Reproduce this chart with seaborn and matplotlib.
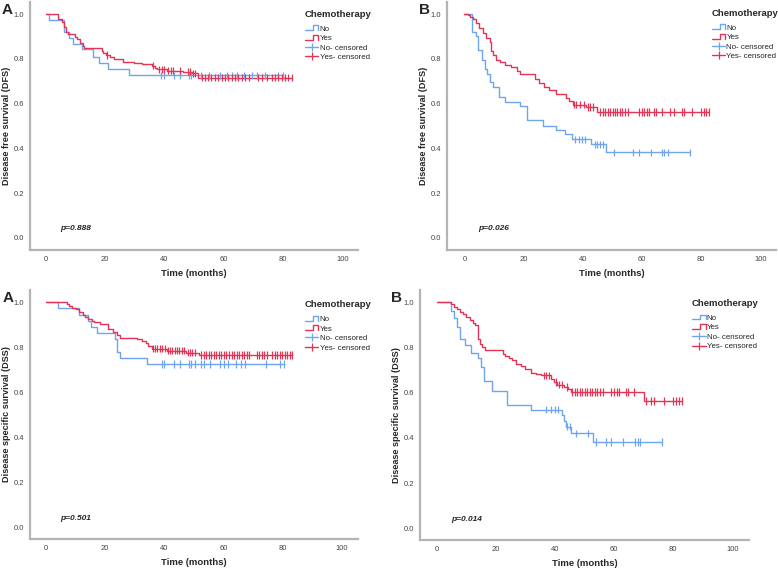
import numpy as np
import pandas as pd
import matplotlib
matplotlib.use('Agg')
import matplotlib.pyplot as plt
from matplotlib.legend_handler import HandlerBase
from matplotlib.lines import Line2D
import seaborn as sns

BLUE = '#6fa5ee'
RED = '#e33456'

# ---- DFS, panel A (top left)
dfs_a_no_time = [0, 1.2, 6.2, 8.0, 9.2, 12.1, 16.0, 18.1, 21.1, 28.2]
dfs_a_no_surv = [1.0, 0.974, 0.921, 0.895, 0.868, 0.842, 0.81, 0.783, 0.755, 0.726]
dfs_a_no_cens = [39.0, 39.8, 43.2, 45.3, 48.2, 49.0, 52.5, 55.1, 58.6, 61.1, 62.9, 64.5,
                 67.0, 69.5, 71.4, 74.0, 78.2, 80.0]
dfs_a_yes_time = [0, 4.3, 5.4, 6.0, 6.7, 7.6, 9.9, 10.7, 11.6, 12.5, 13.0, 18.9, 19.4, 20.3,
                  21.7, 23.0, 26.0, 29.6, 32.4, 35.7, 36.9, 37.6, 40.8, 46.4, 49.2, 51.5]
dfs_a_yes_surv = [1.0, 0.978, 0.966, 0.944, 0.921, 0.909, 0.899, 0.887, 0.869, 0.857, 0.847,
                  0.837, 0.825, 0.817, 0.807, 0.798, 0.788, 0.78, 0.776, 0.77, 0.761, 0.753,
                  0.747, 0.743, 0.736, 0.716]
dfs_a_yes_cens = [20.6, 36.3, 38.2, 39.1, 39.9, 41.3, 42.2, 43.0, 45.3, 47.9, 48.6, 49.8, 50.3,
                  52.6, 53.7, 54.8, 55.9, 57.1, 58.2, 59.3, 60.5, 61.6, 62.7, 63.8, 65.0, 66.1,
                  67.2, 68.7, 71.7, 72.8, 74.5, 76.2, 77.3, 78.4, 79.6, 80.7, 81.8, 83.2]

# ---- DFS, panel B (top right)
dfs_b_no_time = [0, 2.7, 3.8, 4.7, 5.9, 6.8, 7.6, 8.7, 9.7, 11.6, 13.7, 18.9, 21.0, 26.7,
                 31.0, 34.0, 36.5, 42.8, 47.9]
dfs_b_no_surv = [1.0, 0.921, 0.901, 0.838, 0.797, 0.753, 0.733, 0.695, 0.673, 0.63, 0.609,
                 0.589, 0.525, 0.502, 0.483, 0.463, 0.44, 0.418, 0.382]
dfs_b_no_cens = [37.4, 38.6, 39.6, 40.7, 44.0, 44.9, 45.8, 46.7, 50.7, 56.9, 58.9, 62.9,
                 66.7, 67.6, 68.8, 76.1]
dfs_b_yes_time = [0, 1.2, 2.0, 3.0, 4.0, 5.0, 6.2, 7.3, 8.6, 9.1, 9.7, 10.5, 11.9, 13.6, 15.9,
                  17.8, 18.9, 24.0, 25.3, 26.8, 28.6, 31.0, 34.2, 35.4, 36.6, 41.0, 44.8]
dfs_b_yes_surv = [1.0, 0.994, 0.988, 0.976, 0.958, 0.936, 0.914, 0.895, 0.877, 0.834, 0.818,
                  0.797, 0.784, 0.774, 0.762, 0.747, 0.733, 0.712, 0.693, 0.675, 0.66, 0.643,
                  0.627, 0.612, 0.596, 0.585, 0.563]
dfs_b_yes_cens = [37.0, 37.7, 38.9, 40.3, 41.6, 42.5, 43.4, 45.8, 46.7, 47.5, 48.4, 49.2, 50.1,
                  50.9, 51.7, 52.5, 53.4, 54.2, 55.3, 59.0, 59.9, 60.7, 61.6, 62.5, 64.0, 64.9,
                  66.7, 69.5, 70.8, 73.4, 74.2, 77.0, 80.1, 80.9, 81.8, 82.8]

# ---- DSS, panel A (bottom left)
dss_a_no_time = [0, 4.2, 11.3, 14.3, 15.1, 17.1, 23.3, 24.1, 25.0, 34.2]
dss_a_no_surv = [1.0, 0.973, 0.946, 0.919, 0.892, 0.865, 0.838, 0.781, 0.754, 0.726]
dss_a_no_cens = [39.1, 39.8, 43.2, 45.2, 48.2, 49.1, 50.5, 52.4, 53.4, 55.5, 59.0, 60.1,
                 61.7, 64.2, 65.9, 67.3, 74.5, 79.2, 80.4]
dss_a_yes_time = [0, 7.0, 7.9, 8.7, 10.2, 11.3, 12.4, 13.2, 14.3, 15.4, 16.2, 18.3, 21.1,
                  22.8, 24.1, 25.0, 30.7, 32.4, 33.8, 34.6, 35.7, 40.8, 47.5, 51.7]
dss_a_yes_surv = [1.0, 0.992, 0.985, 0.976, 0.97, 0.955, 0.946, 0.936, 0.925, 0.917, 0.911,
                  0.902, 0.881, 0.869, 0.855, 0.843, 0.837, 0.828, 0.818, 0.807, 0.794, 0.786,
                  0.776, 0.766]
dss_a_yes_cens = [36.1, 36.9, 37.7, 38.6, 39.3, 40.2, 41.1, 41.9, 42.7, 43.6, 44.4, 45.1, 45.9,
                  46.8, 47.9, 48.7, 49.5, 50.4, 52.5, 53.3, 54.2, 55.1, 55.9, 56.8, 57.6, 58.5,
                  59.3, 60.2, 61.0, 61.9, 62.8, 63.6, 64.5, 65.3, 66.2, 67.0, 67.9, 68.7, 71.3,
                  72.1, 73.0, 73.8, 74.7, 76.4, 77.3, 78.1, 79.0, 79.9, 80.7, 81.6, 82.4, 83.3]

# ---- DSS, panel B (bottom right)
dss_b_no_time = [0, 4.7, 5.9, 7.0, 7.8, 9.7, 11.7, 13.8, 14.9, 15.9, 18.7, 23.8, 32.0, 42.2,
                 43.0, 43.6, 45.5, 52.7]
dss_b_no_surv = [1.0, 0.963, 0.929, 0.893, 0.837, 0.813, 0.774, 0.752, 0.714, 0.65, 0.606,
                 0.545, 0.525, 0.5, 0.475, 0.45, 0.42, 0.382]
dss_b_no_cens = [36.8, 38.8, 39.9, 41.0, 44.2, 45.0, 47.2, 51.0, 54.0, 57.1, 58.8, 63.0,
                 67.0, 67.9, 68.9, 76.2]
dss_b_yes_time = [0, 5.0, 5.9, 6.7, 7.8, 8.9, 10.0, 11.2, 12.3, 13.1, 13.8, 14.5, 15.3, 16.2,
                  22.4, 23.2, 24.4, 25.5, 26.9, 28.6, 29.8, 31.8, 33.5, 35.4, 38.8, 39.6, 40.8,
                  43.1, 44.4, 45.3, 70.1]
dss_b_yes_surv = [1.0, 0.991, 0.981, 0.97, 0.959, 0.948, 0.936, 0.921, 0.907, 0.9, 0.84, 0.818,
                  0.803, 0.788, 0.773, 0.763, 0.754, 0.744, 0.729, 0.719, 0.704, 0.689, 0.684,
                  0.677, 0.662, 0.648, 0.636, 0.625, 0.615, 0.603, 0.563]
dss_b_yes_cens = [36.3, 37.1, 37.9, 40.5, 41.3, 42.2, 43.9, 45.9, 46.7, 47.6, 48.4, 49.2, 50.1,
                  50.9, 51.8, 52.6, 53.5, 54.3, 55.2, 56.2, 58.9, 60.0, 60.8, 61.8, 63.9, 64.8,
                  66.8, 70.7, 72.4, 73.6, 77.0, 80.0, 80.8, 81.8, 83.0]

groups = ['No', 'Yes']
p_values = ['p=0.888', 'p=0.026', 'p=0.501', 'p=0.014']
letters = ['A', 'B', 'A', 'B']
y_labels = ['Disease free survival (DFS)', 'Disease free survival (DFS)',
            'Disease specific survival (DSS)', 'Disease specific survival (DSS)']

panels = [
    (dfs_a_no_time, dfs_a_no_surv, dfs_a_no_cens, dfs_a_yes_time, dfs_a_yes_surv, dfs_a_yes_cens),
    (dfs_b_no_time, dfs_b_no_surv, dfs_b_no_cens, dfs_b_yes_time, dfs_b_yes_surv, dfs_b_yes_cens),
    (dss_a_no_time, dss_a_no_surv, dss_a_no_cens, dss_a_yes_time, dss_a_yes_surv, dss_a_yes_cens),
    (dss_b_no_time, dss_b_no_surv, dss_b_no_cens, dss_b_yes_time, dss_b_yes_surv, dss_b_yes_cens),
]

# layout in pixels: left, right, top, bottom of each axes, x limits, y limits
W, H = 778, 569
boxes = [(30, 358, 2, 250), (447, 776, 2, 250), (30, 358, 290, 539), (420, 749, 290, 540)]
xlims = [(-5.3, 105.3), (-5.9, 105.3), (-5.4, 105.5), (-5.65, 105.6)]
ylims = [(-0.054, 1.054), (-0.054, 1.054), (-0.052, 1.055), (-0.052, 1.055)]
letter_pos = [(2, 10), (419, 10), (3, 298), (391, 298)]
legend_anchor = [(0.838, 0.969), (0.805, 0.973), (0.838, 0.959), (0.827, 0.964)]


class StepHandler(HandlerBase):
    # little step shaped icon used by the legend for the survival lines
    def create_artists(self, legend, orig_handle, xdescent, ydescent, width, height, fontsize, trans):
        x0 = -xdescent
        x1 = x0 + width
        xm = x0 + 0.62 * width
        yl = -ydescent + 0.1 * height
        yh = -ydescent + 0.95 * height
        line = Line2D([x0, xm, xm, x1, x1], [yl, yl, yh, yh, yl],
                      color=orig_handle.get_color(), lw=orig_handle.get_linewidth())
        line.set_transform(trans)
        return [line]


def km_frame(time, surv, cens, group):
    t = list(time) + [max(cens)]
    s = list(surv) + [surv[-1]]
    curve = pd.DataFrame({'time': t, 'surv': s, 'group': group})
    idx = np.searchsorted(np.array(time), np.array(cens), side='right') - 1
    marks = pd.DataFrame({'time': cens, 'surv': np.array(surv)[idx], 'group': group})
    return curve, marks


sns.set_theme(style='white')
plt.rcParams['font.family'] = ['Liberation Sans', 'DejaVu Sans']

fig = plt.figure(figsize=(W / 100, H / 100), dpi=100)
palette = {'No': BLUE, 'Yes': RED}

for i, data in enumerate(panels):
    l, r, t, b = boxes[i]
    ax = fig.add_axes([l / W, 1 - b / H, (r - l) / W, (b - t) / H])

    c_no, m_no = km_frame(data[0], data[1], data[2], 'No')
    c_yes, m_yes = km_frame(data[3], data[4], data[5], 'Yes')
    curves = pd.concat([c_no, c_yes], ignore_index=True)
    marks = pd.concat([m_no, m_yes], ignore_index=True)

    sns.lineplot(data=curves, x='time', y='surv', hue='group', palette=palette,
                 estimator=None, sort=False, drawstyle='steps-post', linewidth=1.0,
                 legend=False, ax=ax)
    sns.scatterplot(data=marks, x='time', y='surv', hue='group', palette=palette,
                    marker='|', s=28, linewidth=0.9, legend=False, ax=ax, zorder=3)

    ax.set_xlim(*xlims[i])
    ax.set_ylim(*ylims[i])
    ax.set_xticks([0, 20, 40, 60, 80, 100])
    ax.set_yticks([0.0, 0.2, 0.4, 0.6, 0.8, 1.0])
    ax.set_yticklabels(['0.0', '0.2', '0.4', '0.6', '0.8', '1.0'])
    ax.tick_params(length=0, labelsize=5.5, labelcolor='#444444', pad=4)
    for side in ['top', 'right']:
        ax.spines[side].set_visible(False)
    for side in ['left', 'bottom']:
        ax.spines[side].set_color('#b4b4b4')
        ax.spines[side].set_linewidth(1.6)

    ax.set_xlabel('Time (months)', fontsize=6.8, fontweight='bold')
    ax.set_ylabel(y_labels[i], fontsize=6.6, fontweight='bold')
    ax.xaxis.set_label_coords(0.5, -0.078)
    ax.yaxis.set_label_coords(-0.058, 0.5)

    ax.text(4.8, 0.04, p_values[i], fontsize=6, fontweight='bold', fontstyle='italic',
            ha='left', va='center')

    handles = [Line2D([], [], color=BLUE, lw=1.0), Line2D([], [], color=RED, lw=1.0),
               Line2D([], [], color=BLUE, lw=1.0, marker='|', markersize=6, mew=0.9),
               Line2D([], [], color=RED, lw=1.0, marker='|', markersize=6, mew=0.9)]
    leg = ax.legend(handles, ['No', 'Yes', 'No- censored', 'Yes- censored'],
                    title='Chemotherapy', loc='upper left', bbox_to_anchor=legend_anchor[i],
                    frameon=False, fontsize=5.7, numpoints=1, handlelength=1.7,
                    handletextpad=0.15, labelspacing=0.25, borderpad=0, borderaxespad=0,
                    alignment='left', title_fontproperties={'weight': 'bold', 'size': 6.8},
                    handler_map={handles[0]: StepHandler(), handles[1]: StepHandler()})
    # a little more room between the title and the entries
    leg._legend_box.sep = 4.6

    lx, ly = letter_pos[i]
    fig.text(lx / W, 1 - ly / H, letters[i], fontsize=11, fontweight='bold', va='center')

fig.savefig('out.png', dpi=100)
